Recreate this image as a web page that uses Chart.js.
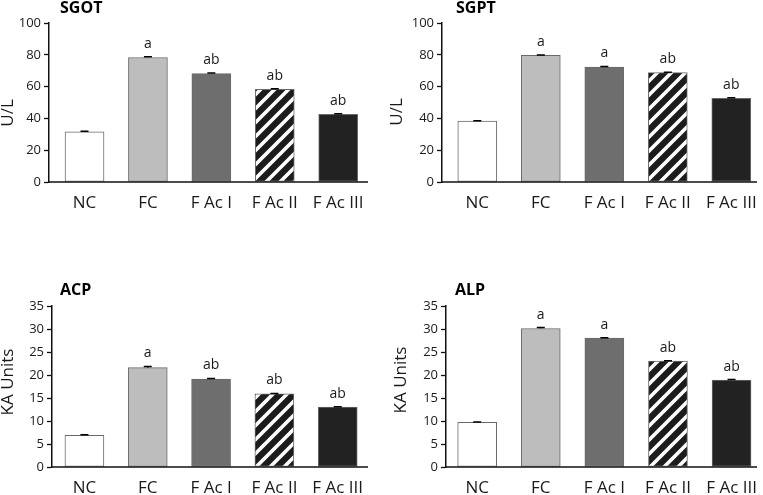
<!DOCTYPE html>
<html>
<head>
<meta charset="utf-8">
<script src="https://cdn.jsdelivr.net/npm/chart.js@4"></script>
<style>
  body { margin: 0; background: #fff; }
  .wrap { position: relative; width: 763px; height: 495px; }
  canvas { position: absolute; }
</style>
</head>
<body>
<div class="wrap">
  <canvas id="sgot" width="380" height="215" style="left:0;top:0"></canvas>
  <canvas id="sgpt" width="383" height="215" style="left:380px;top:0"></canvas>
  <canvas id="acp" width="380" height="220" style="left:0;top:275px"></canvas>
  <canvas id="alp" width="383" height="220" style="left:380px;top:275px"></canvas>
</div>
<script>
// groups on the x axis
const groups = ['NC', 'FC', 'F Ac I', 'F Ac II', 'F Ac III'];

// values (mean, SEM, significance letters)
const sgotValues = [31.5, 78.3, 68.2, 58.3, 42.6];
const sgotErr = [0.4, 0.4, 0.4, 0.3, 0.4];
const sgotSig = ['', 'a', 'ab', 'ab', 'ab'];

const sgptValues = [38.3, 79.6, 72.3, 68.8, 52.7];
const sgptErr = [0.3, 0.3, 0.4, 0.3, 0.3];
const sgptSig = ['', 'a', 'a', 'ab', 'ab'];

const acpValues = [6.9, 21.6, 19.1, 15.9, 13.0];
const acpErr = [0.1, 0.25, 0.15, 0.1, 0.1];
const acpSig = ['', 'a', 'ab', 'ab', 'ab'];

const alpValues = [9.7, 30.1, 28.0, 23.0, 18.9];
const alpErr = [0.1, 0.2, 0.1, 0.1, 0.1];
const alpSig = ['', 'a', 'a', 'ab', 'ab'];

const font = "'Open Sans', 'DejaVu Sans', sans-serif";
const ink = '#1a1a1a';

// diagonal stripes for F Ac II
function stripes() {
    let c = document.createElement('canvas');
    c.width = 14; c.height = 14;
    let g = c.getContext('2d');
    g.fillStyle = '#1c1c1c';
    g.fillRect(0, 0, 14, 14);
    g.strokeStyle = '#fff';
    g.lineWidth = 3.6;
    g.beginPath();
    g.moveTo(-7, 7); g.lineTo(7, -7);
    g.moveTo(0, 14); g.lineTo(14, 0);
    g.moveTo(7, 21); g.lineTo(21, 7);
    g.stroke();
    return g.createPattern(c, 'repeat');
}

const panels = [
    { id: 'sgot', name: 'SGOT', unit: 'U/L', values: sgotValues, err: sgotErr, sig: sgotSig, yMax: 100, yStep: 20,
      area: { l: 49, r: 368, t: 23, b: 182 }, xMin: -0.56, xMax: 4.47, titleX: 60, titleY: 8, unitX: 8, unitY: 113 },
    { id: 'sgpt', name: 'SGPT', unit: 'U/L', values: sgptValues, err: sgptErr, sig: sgptSig, yMax: 100, yStep: 20,
      area: { l: 62, r: 377, t: 23, b: 182 }, xMin: -0.556, xMax: 4.405, titleX: 76, titleY: 8, unitX: 17, unitY: 112 },
    { id: 'acp', name: 'ACP', unit: 'KA Units', values: acpValues, err: acpErr, sig: acpSig, yMax: 35, yStep: 5,
      area: { l: 52, r: 368, t: 31, b: 192 }, xMin: -0.512, xMax: 4.478, titleX: 60, titleY: 15, unitX: 8, unitY: 107 },
    { id: 'alp', name: 'ALP', unit: 'KA Units', values: alpValues, err: alpErr, sig: alpSig, yMax: 35, yStep: 5,
      area: { l: 66, r: 377, t: 31, b: 192 }, xMin: -0.49, xMax: 4.4, titleX: 75, titleY: 15, unitX: 21, unitY: 105 }
];

// error bars, letters, panel title, y title and the x baseline
const extras = {
    id: 'extras',
    afterDatasetsDraw(chart, args, opts) {
        let ctx = chart.ctx;
        let p = opts.panel;
        let y = chart.scales.y;
        let area = chart.chartArea;
        let meta = chart.getDatasetMeta(0);
        ctx.save();
        ctx.strokeStyle = '#111';
        ctx.lineWidth = 1.5;
        ctx.beginPath();
        ctx.moveTo(area.left, area.bottom);
        ctx.lineTo(area.right, area.bottom);
        ctx.stroke();

        ctx.strokeStyle = '#000';
        meta.data.forEach(function (bar, i) {
            let top = y.getPixelForValue(p.values[i] + p.err[i]);
            let base = y.getPixelForValue(p.values[i]);
            ctx.beginPath();
            ctx.moveTo(bar.x, base);
            ctx.lineTo(bar.x, top);
            ctx.moveTo(bar.x - 4, top);
            ctx.lineTo(bar.x + 4, top);
            ctx.stroke();
            if (p.sig[i]) {
                ctx.fillStyle = ink;
                ctx.font = '14px ' + font;
                ctx.textAlign = 'center';
                ctx.textBaseline = 'alphabetic';
                ctx.fillText(p.sig[i], bar.x, top - 9);
            }
        });
        ctx.fillStyle = '#000';
        ctx.font = 'bold 16px ' + font;
        ctx.textAlign = 'left';
        ctx.textBaseline = 'middle';
        ctx.fillText(p.name, p.titleX, p.titleY);

        ctx.translate(p.unitX, p.unitY);
        ctx.rotate(-Math.PI / 2);
        ctx.fillStyle = ink;
        ctx.font = '17px ' + font;
        ctx.textAlign = 'center';
        ctx.fillText(p.unit, 0, 0);
        ctx.restore();
    }
};

panels.forEach(function (p) {
    let canvas = document.getElementById(p.id);
    let fills = ['#ffffff', '#bdbdbd', '#6e6e6e', stripes(), '#222222'];
    new Chart(canvas.getContext('2d'), {
        type: 'bar',
        data: {
            datasets: [{
                data: groups.map(function (g, i) { return { x: i, y: p.values[i] }; }),
                backgroundColor: fills,
                borderColor: '#6a6a6a',
                borderWidth: 1,
                borderSkipped: false,
                barThickness: 39
            }]
        },
        options: {
            responsive: false,
            animation: false,
            events: [],
            layout: {
                padding: { left: 0, top: p.area.t, right: canvas.width - p.area.r, bottom: 0 }
            },
            plugins: {
                legend: { display: false },
                tooltip: { enabled: false },
                extras: { panel: p }
            },
            scales: {
                x: {
                    type: 'linear',
                    offset: false,
                    min: p.xMin,
                    max: p.xMax,
                    afterFit: function (s) { s.height = canvas.height - p.area.b; },
                    afterBuildTicks: function (s) { s.ticks = groups.map(function (g, i) { return { value: i }; }); },
                    grid: { display: false, offset: false },
                    border: { display: false },
                    ticks: {
                        autoSkip: false,
                        maxRotation: 0,
                        padding: 3,
                        color: ink,
                        font: { family: font, size: 17 },
                        callback: function (v) { return groups[v]; }
                    }
                },
                y: {
                    min: 0,
                    max: p.yMax,
                    afterFit: function (s) { s.width = p.area.l; },
                    grid: { drawOnChartArea: false, drawTicks: true, tickLength: 5, color: '#111', tickWidth: 1.3 },
                    border: { display: true, color: '#111', width: 1.5 },
                    ticks: {
                        stepSize: p.yStep,
                        padding: 3,
                        color: ink,
                        font: { family: font, size: 13 }
                    }
                }
            }
        },
        plugins: [extras]
    });
});
</script>
</body>
</html>
